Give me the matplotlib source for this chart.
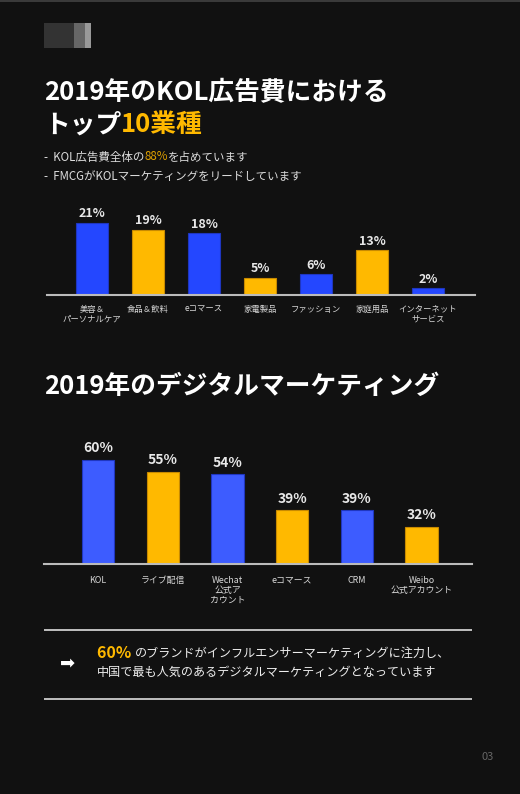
import matplotlib
matplotlib.use("Agg")
import matplotlib.pyplot as plt
from matplotlib.patches import Rectangle

plt.rcParams['font.family'] = ['Noto Sans CJK JP', 'DejaVu Sans']

# データ
kol_categories = ['美容＆\nパーソナルケア', '食品＆飲料', 'eコマース', '家電製品',
                  'ファッション', '家庭用品', 'インターネット\nサービス']
kol_values = [21, 19, 18, 5, 6, 13, 2]
kol_colors = ['blue', 'yellow', 'blue', 'yellow', 'blue', 'yellow', 'blue']

dm_categories = ['KOL', 'ライブ配信', 'Wechat\n公式ア\nカウント', 'eコマース',
                 'CRM', 'Weibo\n公式アカウント']
dm_values = [60, 55, 54, 39, 39, 32]
dm_colors = ['blue', 'yellow', 'blue', 'yellow', 'blue', 'yellow']

BG = '#111111'
YELLOW = '#ffb900'
BLUE1 = '#2447ff'
BLUE2 = '#3d5cff'
W, H = 520, 794

fig = plt.figure(figsize=(5.2, 7.94), dpi=100, facecolor=BG)
renderer = fig.canvas.get_renderer()


def fx(x):
    return x / W


def fy(y):
    return 1 - y / H


def seg_text(x, y, parts, **kw):
    # 色の違うテキストを横に並べる
    for s, c, extra in parts:
        opts = dict(kw)
        opts.update(extra)
        t = fig.text(fx(x), fy(y), s, color=c, va='center', ha='left', **opts)
        bb = t.get_window_extent(renderer)
        x += bb.width
    return x


# 上の線とロゴ
fig.add_artist(Rectangle((0, fy(2)), 1, 2 / H, transform=fig.transFigure,
                         color='#3a3a3a', lw=0))
for x0, x1, c in [(44, 74, '#333333'), (74, 85, '#666666'), (85, 91, '#999999')]:
    fig.add_artist(Rectangle((fx(x0), fy(48)), (x1 - x0) / W, 25 / H,
                             transform=fig.transFigure, color=c, lw=0))

# タイトル
fig.text(fx(44), fy(93), '2019年のKOL広告費における', color='white',
         fontsize=18.5, fontweight='bold', va='center')
seg_text(44, 125, [('トップ', 'white', {}), ('10業種', YELLOW, {})],
         fontsize=18.5, fontweight='bold')

seg_text(44, 157, [('-  KOL広告費全体の', '#dddddd', {}), ('88%', '#e0a000', {}),
                   ('を占めています', '#dddddd', {})], fontsize=8.3)
fig.text(fx(44), fy(176), '-  FMCGがKOLマーケティングをリードしています',
         color='#dddddd', fontsize=8.3, va='center')


def bar_chart(left, right, base, top, ymin, ymax, first_c, step, width,
              cats, vals, cols, blue, lab_fs, cat_fs, pad, off):
    ax = fig.add_axes([fx(left), fy(base), (right - left) / W, (base - top) / H])
    ax.set_facecolor(BG)
    n = len(cats)
    x = list(range(n))
    c0 = (first_c - left) / step
    ax.set_xlim(-c0, (right - left) / step - c0)
    ax.set_ylim(ymin, ymax)
    colors = [blue if c == 'blue' else YELLOW for c in cols]
    edges = ['#1f36c0' if c == 'blue' else '#c88a00' for c in cols]
    bars = ax.bar(x, vals, width=width / step, color=colors, edgecolor=edges,
                  linewidth=0.8)
    for b, v in zip(bars, vals):
        ax.annotate(f'{v}%', (b.get_x() + b.get_width() / 2, v),
                    xytext=(0, off), textcoords='offset points', ha='center',
                    va='bottom', color='#e8e8e8', fontsize=lab_fs,
                    fontweight='bold')
    ax.set_xticks(x)
    ax.set_xticklabels(cats, color='#d8d8d8', fontsize=cat_fs, linespacing=1.15,
                       va='top')
    ax.tick_params(axis='x', length=0, pad=pad)
    ax.set_yticks([])
    for s in ['top', 'right', 'left']:
        ax.spines[s].set_visible(False)
    ax.spines['bottom'].set_color('#bbbbbb')
    ax.spines['bottom'].set_linewidth(1.5)
    ax.spines['bottom'].set_zorder(3)
    return ax


bar_chart(47, 475, 295, 205, 0, 90 / 3.44, 92, 56, 32,
          kol_categories, kol_values, kol_colors, BLUE1, 9, 6, 7, 1.8)

fig.text(fx(44), fy(386), '2019年のデジタルマーケティング', color='white',
         fontsize=18.5, fontweight='bold', va='center')

bar_chart(44, 472, 564, 440, 16.7, 16.7 + 124 / 2.4, 98, 64.7, 32.3,
          dm_categories, dm_values, dm_colors, BLUE2, 10, 6.4, 8.5, 3.5)

# 下のボックス
for y in [630, 699]:
    fig.add_artist(Rectangle((fx(44), fy(y) - 0.6 / H), 428 / W, 1.5 / H,
                             transform=fig.transFigure, color='#bbbbbb', lw=0))
fig.text(fx(68), fy(663), '➡', color='white', fontsize=13, family='DejaVu Sans',
         ha='center', va='center')
seg_text(97, 653, [('60% ', YELLOW, {'fontsize': 11.5, 'fontweight': 'bold'}),
                   ('のブランドがインフルエンサーマーケティングに注力し、', '#eeeeee',
                    {'fontsize': 8.7})])
fig.text(fx(97), fy(672), '中国で最も人気のあるデジタルマーケティングとなっています',
         color='#eeeeee', fontsize=8.7, va='center')

fig.text(fx(488), fy(757), '03', color='#666666', fontsize=8, ha='center',
         va='center')

fig.savefig('out.png', dpi=100, facecolor=BG)
